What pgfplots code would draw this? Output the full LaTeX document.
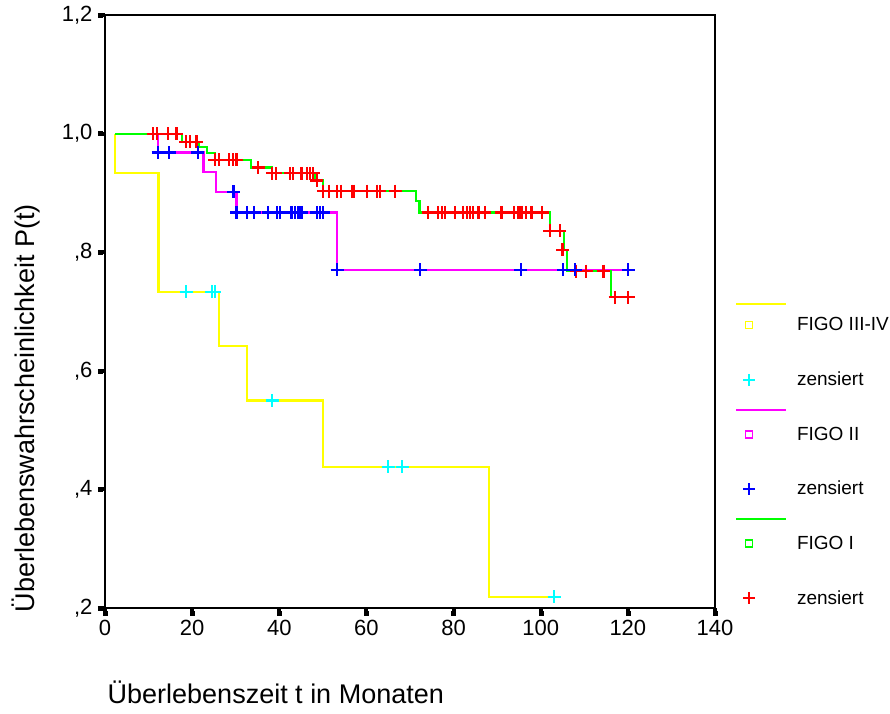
\documentclass[border=0pt]{standalone}
\usepackage{fontspec}
\setmainfont{Liberation Sans}
\usepackage{pgfplots}
\pgfplotsset{compat=1.18}
\definecolor{kmYellow}{RGB}{255,255,0}
\definecolor{kmCyan}{RGB}{0,255,255}
\definecolor{kmMagenta}{RGB}{255,0,255}
\definecolor{kmBlue}{RGB}{0,0,255}
\definecolor{kmGreen}{RGB}{0,255,0}
\definecolor{kmRed}{RGB}{255,0,0}
\begin{document}
\begin{tikzpicture}
\begin{axis}[
  clip=false,
  scale only axis, width=610pt, height=593pt,
  xmin=0, xmax=140, ymin=0.2, ymax=1.2,
  xtick={0,20,40,60,80,100,120,140},
  xticklabels={0,20,40,60,80,100,120,140},
  ytick={0.2,0.4,0.6,0.8,1.0,1.2},
  yticklabels={{,2},{,4},{,6},{,8},{1,0},{1,2}},
  xtick pos=bottom, ytick pos=left,
  axis line style={black, line width=2.5pt},
  tick align=outside, major tick length=7pt,
  tick style={black, line width=4pt},
  tick label style={font=\fontsize{22}{26}\selectfont},
  xticklabel style={yshift=-2pt},
  yticklabel style={xshift=-2pt},
  xlabel={Überlebenszeit t in Monaten},
  ylabel={Überlebenswahrscheinlichkeit P(t)},
  label style={font=\fontsize{27}{32}\selectfont},
  xlabel style={at={(rel axis cs:0.280,-0.142)}, anchor=center},
  ylabel style={at={(rel axis cs:-0.130,0.337)}, anchor=center},
  legend style={at={(rel axis cs:1.0328,0.5233)}, anchor=north west,
    draw=none, fill=none, inner sep=0pt, outer sep=0pt,
    row sep=0pt, column sep=10pt,
    nodes={inner sep=0pt, minimum height=54.6pt},
    font=\fontsize{19}{23}\selectfont},
  legend cell align=left,
]
% tick squares (decoration)
\addplot[only marks, mark=square*, mark size=2pt, black, forget plot,
  mark options={yshift=-5pt}] coordinates {
 (0,0.2) (20,0.2) (40,0.2) (60,0.2) (80,0.2) (100,0.2) (120,0.2) (140,0.2)};
\addplot[only marks, mark=square*, mark size=2pt, black, forget plot,
  mark options={xshift=-5pt}] coordinates {
 (0,0.2) (0,0.4) (0,0.6) (0,0.8) (0,1.0) (0,1.2)};
% survival curves
\addplot[const plot, kmYellow, line width=2.2pt, forget plot] coordinates {
 (2.3,1.0) (2.3,0.933) (12.3,0.733) (26.2,0.642) (32.5,0.550) (50.1,0.438) (88.1,0.219) (103.1,0.219)};
\addplot[const plot, kmMagenta, line width=2.2pt, forget plot] coordinates {
 (2.3,1.0) (12.2,0.968) (22.6,0.935) (25.4,0.902) (30.2,0.867) (53.3,0.770) (120.1,0.770)};
\addplot[const plot, kmGreen, line width=2.2pt, forget plot] coordinates {
 (2.3,1.0) (17.6,0.9865) (21.6,0.977) (23.5,0.967) (25.2,0.956) (33.5,0.943) (38.3,0.933)
 (48.2,0.921) (50.1,0.903) (71.4,0.886) (72.2,0.867) (102.1,0.836) (105.3,0.804)
 (106.1,0.768) (116.1,0.724) (120.1,0.724)};
% censored
\addplot[only marks, mark=+, mark size=6.5pt, kmCyan, line width=2.2pt, forget plot] coordinates {
 (18.6,0.733) (24.5,0.733) (25.2,0.733) (38.4,0.550) (65.0,0.438) (68.2,0.438) (103.1,0.219)};
\addplot[only marks, mark=+, mark size=6.5pt, kmRed, line width=2.2pt, forget plot] coordinates {
 (11.1,1.0) (12.0,1.0) (14.5,1.0) (16.4,1.0)
 (18.5,0.9865) (19.5,0.9865) (21.0,0.9865)
 (25.2,0.956) (26.2,0.956) (28.5,0.956) (29.3,0.956) (30.2,0.956)
 (35.2,0.943)
 (38.4,0.933) (39.2,0.933) (42.5,0.933) (43.2,0.933) (45.1,0.933) (46.3,0.933) (47.1,0.933) (47.8,0.933)
 (48.6,0.921)
 (50.1,0.903) (51.5,0.903) (53.2,0.903) (54.1,0.903) (56.6,0.903) (57.2,0.903) (60.1,0.903) (62.4,0.903) (63.1,0.903) (66.6,0.903)
 (74.2,0.867) (76.5,0.867) (77.3,0.867) (78.0,0.867) (80.3,0.867) (82.2,0.867) (83.0,0.867) (83.8,0.867)
 (84.5,0.867) (85.7,0.867) (87.2,0.867) (91.0,0.867) (93.9,0.867) (94.9,0.867) (95.6,0.867) (96.6,0.867)
 (97.9,0.867) (100.3,0.867)
 (102.1,0.836) (104.4,0.836) (105.0,0.804)
 (108.1,0.768) (110.4,0.768) (114.4,0.768)
 (117.1,0.724) (120.1,0.724)};
\addplot[only marks, mark=+, mark size=6.5pt, kmBlue, line width=2.2pt, forget plot] coordinates {
 (12.2,0.968) (14.7,0.968) (21.3,0.968) (29.5,0.902)
 (30.2,0.867) (32.5,0.867) (34.2,0.867) (37.5,0.867) (39.4,0.867) (40.2,0.867) (42.8,0.867)
 (43.6,0.867) (44.4,0.867) (45.1,0.867) (48.6,0.867) (49.3,0.867) (50.1,0.867)
 (53.3,0.770) (72.3,0.770) (95.4,0.770) (105.2,0.770) (107.9,0.770) (120.1,0.770)};
% legend
\addlegendimage{legend image code/.code={
  \path (0pt,-24pt) (50pt,24pt);
  \draw[kmYellow,line width=2pt] (0pt,21pt) -- (50pt,21pt);
  \draw[kmYellow,line width=1.8pt] (9.5pt,-3.5pt) rectangle (16.5pt,3.5pt);}}
\addlegendentry{FIGO III-IV}
\addlegendimage{legend image code/.code={
  \path (0pt,-6pt) (50pt,6pt);
  \draw[kmCyan,line width=2pt] (7pt,0pt) -- (19pt,0pt) (13pt,-6pt) -- (13pt,6pt);}}
\addlegendentry{zensiert}
\addlegendimage{legend image code/.code={
  \path (0pt,-24pt) (50pt,24pt);
  \draw[kmMagenta,line width=2pt] (0pt,24pt) -- (50pt,24pt);
  \draw[kmMagenta,line width=1.8pt] (9.5pt,-3.5pt) rectangle (16.5pt,3.5pt);}}
\addlegendentry{FIGO II}
\addlegendimage{legend image code/.code={
  \path (0pt,-6pt) (50pt,6pt);
  \draw[kmBlue,line width=2pt] (7pt,0pt) -- (19pt,0pt) (13pt,-6pt) -- (13pt,6pt);}}
\addlegendentry{zensiert}
\addlegendimage{legend image code/.code={
  \path (0pt,-24pt) (50pt,24pt);
  \draw[kmGreen,line width=2pt] (0pt,24pt) -- (50pt,24pt);
  \draw[kmGreen,line width=1.8pt] (9.5pt,-3.5pt) rectangle (16.5pt,3.5pt);}}
\addlegendentry{FIGO I}
\addlegendimage{legend image code/.code={
  \path (0pt,-6pt) (50pt,6pt);
  \draw[kmRed,line width=2pt] (7pt,0pt) -- (19pt,0pt) (13pt,-6pt) -- (13pt,6pt);}}
\addlegendentry{zensiert}
\end{axis}
\pgfresetboundingbox
\path[use as bounding box] ([xshift=-105pt,yshift=-105pt]current axis.south west) rectangle ([xshift=175pt,yshift=15pt]current axis.north east);
\end{tikzpicture}
\end{document}
